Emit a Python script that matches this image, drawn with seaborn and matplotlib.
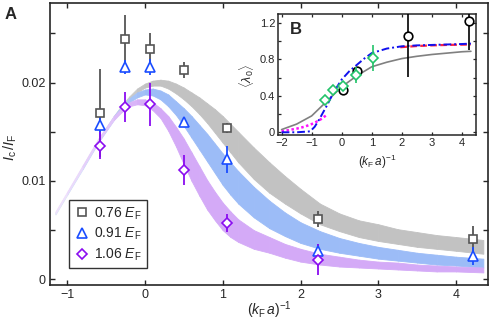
import numpy as np
import matplotlib
matplotlib.use("Agg")
import matplotlib.pyplot as plt
import seaborn as sns
from matplotlib.colors import to_rgb
from matplotlib.lines import Line2D

# ---- panel A: measured points ----
sq_x = [-0.58, -0.25, 0.06, 0.5, 1.06, 2.22, 4.22]
sq_y = [0.0169, 0.0244, 0.0234, 0.0213, 0.0154, 0.0061, 0.0041]
sq_err = [0.0045, 0.0025, 0.0016, 0.0008, 0.0005, 0.0008, 0.0013]

tri_x = [-0.58, -0.25, 0.06, 0.5, 1.06, 2.22, 4.22]
tri_y = [0.0157, 0.0216, 0.0216, 0.0160, 0.0122, 0.0029, 0.0024]
tri_err = [0.0010, 0.0007, 0.0008, 0.0003, 0.0014, 0.0007, 0.0009]

dia_x = [-0.58, -0.25, 0.06, 0.5, 1.06, 2.22]
dia_y = [0.0136, 0.0175, 0.0178, 0.0111, 0.0057, 0.0020]
dia_err = [0.0014, 0.0015, 0.0022, 0.0015, 0.0009, 0.0016]

# ---- panel A: theory bands ----
band_x = [-1.15, -1.0, -0.8, -0.6,
          -0.4, -0.3, -0.2, -0.1, 0.0, 0.1, 0.2, 0.3, 0.4, 0.5, 0.6, 0.7, 0.8, 0.9,
          1.0, 1.1, 1.2,
          1.4, 1.6, 1.8, 2.0,
          2.25, 2.5, 2.75, 3.0, 3.25, 3.5, 3.75, 4.0, 4.35]
gray_hi = [0.0068, 0.0088, 0.0115, 0.0142,
           0.0166, 0.0177, 0.0186, 0.0194, 0.0199, 0.0202, 0.0203, 0.0202, 0.0199,
           0.0195, 0.0190, 0.0185, 0.0179, 0.0173, 0.0166, 0.0158, 0.0150,
           0.0134, 0.0119, 0.0105, 0.0092,
           0.0077, 0.0067, 0.0060, 0.0056, 0.0051, 0.0048, 0.0045, 0.0043, 0.0040]
gray_lo = [0.0066, 0.0086, 0.0113, 0.0140,
           0.0164, 0.0174, 0.0183, 0.0190, 0.0195, 0.0197, 0.0197, 0.0194, 0.0189,
           0.0183, 0.0176, 0.0168, 0.0159, 0.0149, 0.0139, 0.0129, 0.0119,
           0.0102, 0.0088, 0.0077, 0.0067,
           0.0056, 0.0049, 0.0043, 0.0039, 0.0036, 0.0033, 0.0031, 0.0029, 0.0026]
blue_hi = [0.0068, 0.0088, 0.0115, 0.0142,
           0.0166, 0.0176, 0.0184, 0.0190, 0.0193, 0.0194, 0.0192, 0.0188, 0.0181,
           0.0174, 0.0166, 0.0157, 0.0148, 0.0138, 0.0128, 0.0119, 0.0110,
           0.0094, 0.0080, 0.0068, 0.0058,
           0.0049, 0.0042, 0.0037, 0.0033, 0.0030, 0.0027, 0.0025, 0.0023, 0.0021]
blue_lo = [0.0066, 0.0086, 0.0112, 0.0139,
           0.0162, 0.0172, 0.0180, 0.0185, 0.0188, 0.0187, 0.0183, 0.0176, 0.0167,
           0.0156, 0.0144, 0.0132, 0.0120, 0.0108, 0.0096, 0.0086, 0.0077,
           0.0063, 0.0052, 0.0044, 0.0037,
           0.0031, 0.0027, 0.0024, 0.0021, 0.0019, 0.0017, 0.0015, 0.0014, 0.0012]
purp_hi = [0.0069, 0.0089, 0.0116, 0.0143,
           0.0166, 0.0174, 0.0180, 0.0183, 0.0183, 0.0180, 0.0174, 0.0166, 0.0155,
           0.0143, 0.0129, 0.0115, 0.0101, 0.0089, 0.0078, 0.0069, 0.0061,
           0.0050, 0.0043, 0.0036, 0.0031,
           0.0026, 0.0023, 0.0020, 0.0018, 0.0017, 0.0015, 0.0014, 0.0013, 0.0012]
purp_lo = [0.0067, 0.0087, 0.0113, 0.0140,
           0.0162, 0.0170, 0.0176, 0.0178, 0.0177, 0.0172, 0.0164, 0.0151, 0.0135,
           0.0117, 0.0100, 0.0085, 0.0071, 0.0060, 0.0050, 0.0043, 0.0038,
           0.0031, 0.0027, 0.0022, 0.0018,
           0.0015, 0.0013, 0.0012, 0.0011, 0.0010, 0.0009, 0.0008, 0.0008, 0.0007]

# ---- panel B ----
circ_x = [0.05, 0.5, 2.22, 4.22]
circ_y = [0.46, 0.67, 1.055, 1.22]
circ_lo = [0.05, 0.03, 0.445, 0.32]
circ_hi = [0.03, 0.03, 0.30, 0.20]

grn_x = [-0.57, -0.28, 0.05, 0.49, 1.04]
grn_y = [0.35, 0.465, 0.51, 0.63, 0.815]
grn_err = [0.02, 0.02, 0.04, 0.09, 0.14]

gcurve_x = [-2.0, -1.5, -1.0, -0.5, 0.0, 0.5, 1.0, 1.5, 2.0, 2.5, 3.0, 3.5, 4.0, 4.3]
gcurve_y = [0.03, 0.09, 0.18, 0.34, 0.50, 0.62, 0.72, 0.77, 0.81, 0.835, 0.855, 0.87, 0.885, 0.89]

bcurve_x = [-2.0, -1.5, -1.05, -0.9, -0.75, -0.5, -0.25, 0.0, 0.25, 0.5, 0.75, 1.0,
            1.5, 2.0, 2.5, 3.0, 3.5, 4.0, 4.3]
bcurve_y = [0.0, 0.0, 0.01, 0.06, 0.14, 0.29, 0.45, 0.58, 0.67, 0.74, 0.81, 0.87,
            0.92, 0.945, 0.955, 0.96, 0.965, 0.97, 0.975]

rcurve_x = [1.95, 2.5, 3.0, 3.5, 4.0, 4.3]
rcurve_y = [0.935, 0.948, 0.955, 0.96, 0.963, 0.965]

mcurve_x = [-2.0, -1.75, -1.5, -1.25, -1.0, -0.75, -0.5]
mcurve_y = [0.01, 0.025, 0.04, 0.06, 0.09, 0.13, 0.19]

c_gray, c_blue, c_purp = "#555555", "#1a4dff", "#8a0cf0"
band_gray, band_blue, band_purp = "#c2c2c2", "#9cbcf7", "#d4aaf7"

sns.set_style("ticks")
plt.rcParams["font.family"] = ["Liberation Sans", "DejaVu Sans"]
plt.rcParams["mathtext.fontset"] = "custom"
plt.rcParams["mathtext.rm"] = "Liberation Sans"
plt.rcParams["mathtext.it"] = "Liberation Sans:italic"
plt.rcParams["mathtext.bf"] = "Liberation Sans:bold"

fig = plt.figure(figsize=(4.91, 3.21), dpi=100)
ax = fig.add_axes([0.1018, 0.1121, 0.8921, 0.8786])


def draw_band(x, lo, hi, color, z):
    # lighter towards the left end, like the original
    rgb = np.array(to_rgb(color))
    for i in range(len(x) - 1):
        f = min(1.0, 0.35 + 0.65 * (x[i] - x[0]) / (0.0 - x[0]))
        c = tuple(1 - f * (1 - rgb))
        ax.fill_between(x[i:i + 2], lo[i:i + 2], hi[i:i + 2], color=c,
                        ec=c, lw=0.6, zorder=z)


draw_band(band_x, gray_lo, gray_hi, band_gray, 1)
draw_band(band_x, blue_lo, blue_hi, band_blue, 2)
draw_band(band_x, purp_lo, purp_hi, band_purp, 3)

pts = [
    (sq_x, sq_y, sq_err, "s", 5.5, c_gray, r"0.76 $E_{\rm F}$"),
    (tri_x, tri_y, tri_err, "^", 6.5, c_blue, r"0.91 $E_{\rm F}$"),
    (dia_x, dia_y, dia_err, "D", 5.2, c_purp, r"1.06 $E_{\rm F}$"),
]
handles = []
for x, y, e, m, ms, c, lab in pts:
    ax.errorbar(x, y, yerr=e, fmt=m, ms=ms, mfc="white", mec=c, mew=1.2,
                ecolor=c, elinewidth=1.3, capsize=0, zorder=5)
    handles.append(Line2D([], [], ls="none", marker=m, ms=ms, mfc="white",
                          mec=c, mew=1.2, label=lab))

leg = ax.legend(handles=handles, loc="lower left", bbox_to_anchor=(0.044, 0.059),
                borderaxespad=0, fontsize=10, frameon=True, fancybox=False,
                handlelength=1.0, handletextpad=0.4, labelspacing=0.3,
                borderpad=0.4)
leg.get_frame().set_edgecolor("black")
leg.get_frame().set_linewidth(1.0)

ax.set_xlim(-1.22, 4.41)
ax.set_ylim(-0.00058, 0.0281)
ax.set_xticks([-1, 0, 1, 2, 3, 4])
ax.set_yticks([0, 0.01, 0.02])
ax.set_yticklabels(["0", "0.01", "0.02"])
ax.set_yticks([0.005, 0.015, 0.025], minor=True)
ax.tick_params(which="both", direction="in", top=True, right=True,
               length=3.6, width=1.0, labelsize=9, pad=3)
for s in ax.spines.values():
    s.set_linewidth(1.2)
ax.set_xlabel(r"$(k_{\rm F}\,a)^{-1}$", fontsize=10)
ax.xaxis.set_label_coords(0.5, -0.052)
ax.set_ylabel(r"$I_{\rm c}\,/I_{\rm F}$", fontsize=10.5)
ax.yaxis.set_label_coords(-0.07, 0.49)
fig.text(5 / 491, 1 - 7 / 321, "A", va="top", ha="left", fontsize=12,
         fontweight="bold")

# ---- inset B ----
axi = fig.add_axes([0.5662, 0.5794, 0.4033, 0.377])
axi.set_facecolor("white")
sns.lineplot(x=gcurve_x, y=gcurve_y, ax=axi, color="#808080", lw=1.2)
sns.lineplot(x=mcurve_x, y=mcurve_y, ax=axi, color="#ff10ff", lw=1.8,
             linestyle=(0, (1, 1)))
sns.lineplot(x=rcurve_x, y=rcurve_y, ax=axi, color="#ff2040", lw=1.6,
             linestyle=(0, (3, 1.5)))
sns.lineplot(x=bcurve_x, y=bcurve_y, ax=axi, color="#1010ee", lw=1.4,
             linestyle=(0, (4, 1.5, 1, 1.5)))
axi.errorbar(circ_x, circ_y, yerr=[circ_lo, circ_hi], fmt="o", ms=6.2,
             mfc="white", mec="black", mew=1.2, ecolor="black",
             elinewidth=1.2, capsize=0, zorder=5)
axi.errorbar(grn_x, grn_y, yerr=grn_err, fmt="D", ms=4.6, mfc="white",
             mec="#22c46a", mew=1.2, ecolor="#22c46a", elinewidth=1.2,
             capsize=0, zorder=6)
axi.set_xlim(-2.12, 4.47)
axi.set_ylim(-0.03, 1.30)
axi.set_xticks([-2, -1, 0, 1, 2, 3, 4])
axi.set_yticks([0, 0.4, 0.8, 1.2])
axi.set_yticklabels(["0", "0.4", "0.8", "1.2"])
axi.set_yticks([0.2, 0.6, 1.0], minor=True)
axi.tick_params(which="both", direction="in", top=True, right=True,
                length=2.5, width=0.9, labelsize=8, pad=2)
for s in axi.spines.values():
    s.set_linewidth(1.1)
axi.set_xlabel(r"$(k_{\rm F}\,a)^{-1}$", fontsize=8.5)
axi.xaxis.set_label_coords(0.5, -0.15)
axi.set_ylabel(r"$\langle\lambda_0\rangle$", fontsize=9)
axi.yaxis.set_label_coords(-0.11, 0.49)
axi.text(0.06, 0.93, "B", transform=axi.transAxes, va="top", ha="left",
         fontsize=12, fontweight="bold")

fig.savefig("out.png", dpi=100)
